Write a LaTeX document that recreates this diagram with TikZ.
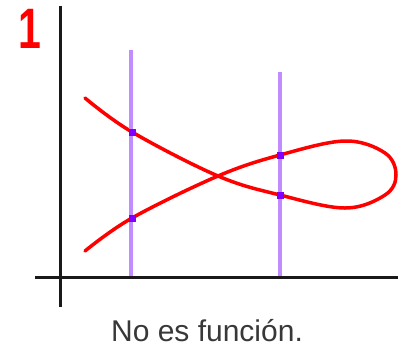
\documentclass[tikz,border=0pt]{standalone}
\usepackage{fontspec}
\setmainfont{Liberation Sans}
\begin{document}
\begin{tikzpicture}[x={(1pt,0)},y={(0,-1pt)},
  axis/.style={line width=3pt,black!90},
  vline/.style={line width=4pt,color={rgb,255:red,192;green,140;blue,255}},
  curve/.style={line width=3.5pt,red,line join=round,line cap=round},
  dot/.style={fill={rgb,255:red,128;green,0;blue,255},minimum size=7pt,inner sep=0pt,draw=none,rectangle}]
\useasboundingbox (0,0) rectangle (398,354);
% curve
\draw[curve] plot[smooth,tension=0.6] coordinates {(85,98) (132,132) (218,176) (280,195) (345,208) (385,195) (396,175) (385,153) (345,141) (280,155) (218,176) (132,218) (85,251)};
% vertical test lines
\coordinate (v1t) at (131,50);
\coordinate (v1b) at (131,277);
\coordinate (v2t) at (280,72);
\coordinate (v2b) at (280,277);
\draw[vline] (v1t) -- (v1b);
\draw[vline] (v2t) -- (v2b);
% dots
\node[dot] (d1) at (132,132) {};
\node[dot] (d2) at (132,218) {};
\node[dot] (d3) at (280,155) {};
\node[dot] (d4) at (280,195) {};
% axes
\coordinate (ya) at (60,6);
\coordinate (yb) at (60,307);
\coordinate (xa) at (35,277);
\coordinate (xb) at (398,277);
\draw[axis] (ya) -- (yb);
\draw[axis] (xa) -- (xb);
% labels
\node[red,font=\bfseries\fontsize{57}{57}\selectfont,inner sep=0pt] (one) at (30,28.5) {\scalebox{0.72}[1]{1}};
\node[black!78,font=\fontsize{30}{30}\selectfont,inner sep=0pt] (cap) at (207,331) {No es función.};
\end{tikzpicture}
\end{document}
